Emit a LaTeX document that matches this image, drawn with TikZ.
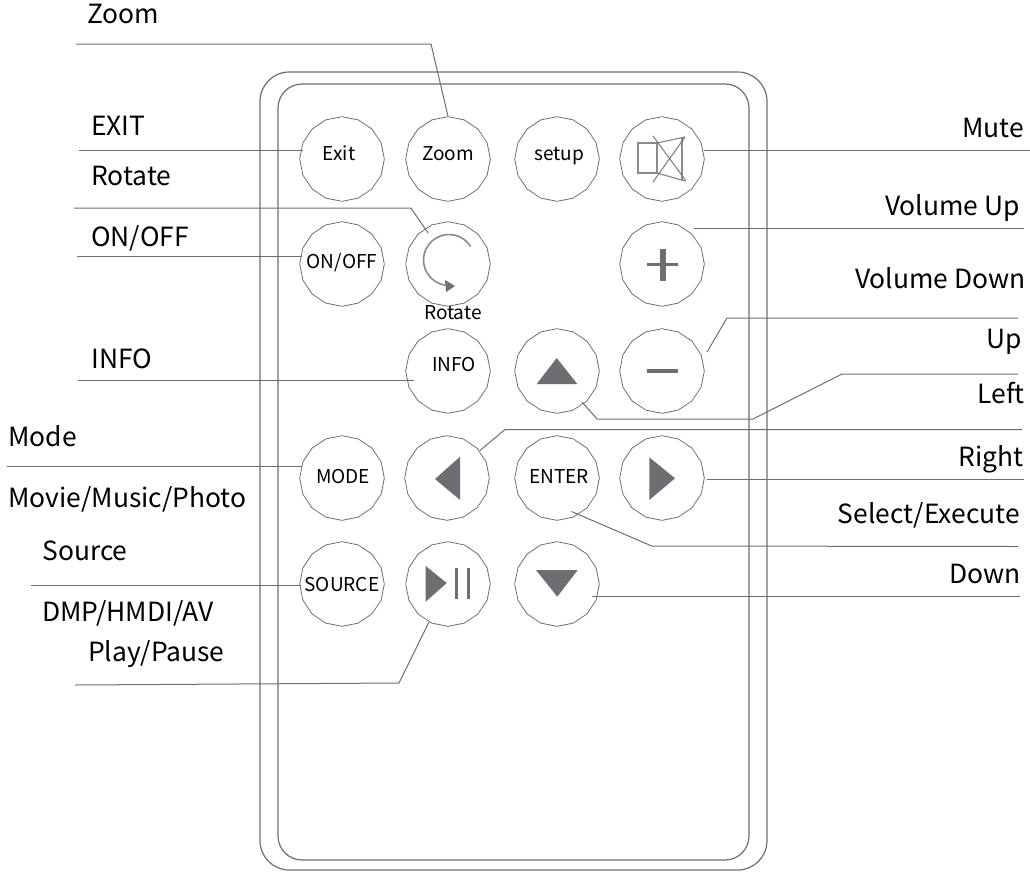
\documentclass[tikz,border=0pt]{standalone}
\usepackage{fontspec}
\setmainfont{Noto Sans CJK SC}
\usetikzlibrary{shapes.geometric}
\definecolor{ln}{RGB}{110,110,112}
\definecolor{ic}{RGB}{109,110,113}
\tikzset{
 x=0.75pt,y=-0.75pt,
 btn/.style={draw=ln,line width=0.6pt,regular polygon,regular polygon sides=16,shape border rotate=11.25,minimum size=63.5pt,inner sep=0pt},
 wire/.style={draw=ln,line width=0.75pt},
 body/.style={draw=ln,line width=0.9pt,rounded corners=22pt},
 lab/.style={font=\fontsize{19.8pt}{22pt}\selectfont,text=black,inner sep=0pt,anchor=base west},
 labr/.style={lab,anchor=base east},
 btxt/.style={font=\fontsize{14.3pt}{16pt}\selectfont,text=black,inner sep=0pt,anchor=base},
 iconl/.style={draw=ic,line width=0.9pt,opacity=.8},
}
\begin{document}
\begin{tikzpicture}
\useasboundingbox (0,0) rectangle (1030,871);
\draw[body] (260,72) rectangle (767,870);
\draw[body,rounded corners=18pt] (278,84) rectangle (749,860);
% buttons
\node[btn] (bExit) at (342,159) {};
\node[btn] (bZoom) at (448,159) {};
\node[btn] (bSetup) at (557,159) {};
\node[btn] (bMute) at (662,159) {};
\node[btn] (bOn) at (342,264) {};
\node[btn] (bRot) at (448,264) {};
\node[btn] (bPlus) at (662,264) {};
\node[btn] (bInfo) at (448,371) {};
\node[btn] (bUp) at (557,371) {};
\node[btn] (bMinus) at (662,371) {};
\node[btn] (bMode) at (342,478) {};
\node[btn] (bLeft) at (447,478) {};
\node[btn] (bEnter) at (557,478) {};
\node[btn] (bRight) at (662,478) {};
\node[btn] (bSource) at (342,584) {};
\node[btn] (bPlay) at (448,584) {};
\node[btn] (bDown) at (557,584) {};
% button texts
\node[btxt] (tExit) at (339,160) {Exit};
\node[btxt] (tZoom) at (448,160) {Zoom};
\node[btxt] (tSetup) at (559,160) {setup};
\node[btxt] (tOn) at (342,268) {ON/OFF};
\node[btxt] (tRot) at (453,319) {Rotate};
\node[btxt] (tInfo) at (454,371) {INFO};
\node[btxt] (tMode) at (343,483) {MODE};
\node[btxt] (tEnter) at (559,483) {ENTER};
\node[btxt] (tSource) at (342,591) {SOURCE};
% icons
\draw[iconl] (638,143) rectangle (657,173);
\draw[iconl] (657,143) -- (685,137);
\draw[iconl] (682,138) -- (682,180);
\draw[iconl] (657,173) -- (685,181);
\draw[iconl] (653,136) -- (686,181);
\draw[iconl] (685,137) -- (653,182);
\draw[iconl,line width=1.2pt] (449,260) ++(-32:25.5) arc (-32:-262:25.5);
\fill[ic] (445,280) -- (455,286) -- (446,292) -- cycle;
\fill[ic] (646.7,262.7) rectangle (678,266);
\fill[ic] (660,249) rectangle (666,281);
\fill[ic] (646.7,369.3) rectangle (678,372.7);
\fill[ic] (536.7,384) -- (577.3,384) -- (556.7,358) -- cycle;
\fill[ic] (435,479) -- (460,456.7) -- (460,500) -- cycle;
\fill[ic] (649.3,457.3) -- (675,478.3) -- (649.3,500) -- cycle;
\fill[ic] (536,570) -- (577.7,570) -- (557.3,596.7) -- cycle;
\fill[ic] (425.7,566) -- (446.7,583) -- (425.7,601.7) -- cycle;
\fill[ic] (455,567.7) rectangle (458.3,599.3);
\fill[ic] (466.7,567.7) rectangle (470,599.3);
% labels
\node[lab] (lZoom) at (87,23) {Zoom};
\node[lab] (lExit) at (91,135) {EXIT};
\node[lab] (lRotate) at (91,185) {Rotate};
\node[lab] (lOn) at (91,246) {ON/OFF};
\node[lab] (lInfo) at (91,368) {INFO};
\node[lab] (lMode) at (8,446) {Mode};
\node[lab] (lMovie) at (8,507) {Movie/Music/Photo};
\node[lab] (lSource) at (42,560) {Source};
\node[lab] (lDmp) at (42,621) {DMP/HMDI/AV};
\node[lab] (lPlay) at (88,661) {Play/Pause};
\node[labr] (lMute) at (1024,137) {Mute};
\node[labr] (lVu) at (1020,215) {Volume Up};
\node[labr] (lVd) at (1026,288) {Volume Down};
\node[labr] (lUp) at (1022,348) {Up};
\node[labr] (lLeft) at (1025,403) {Left};
\node[labr] (lRight) at (1024,466) {Right};
\node[labr] (lSel) at (1020,523) {Select/Execute};
\node[labr] (lDown) at (1021,583) {Down};
% free ends
\coordinate (cZoom) at (76,44);
\coordinate (cExit) at (79,150);
\coordinate (cRot) at (74,208);
\coordinate (eRot) at (428,233);
\coordinate (cOn) at (77,256);
\coordinate (cInfo) at (78,380);
\coordinate (eInfo) at (414,380);
\coordinate (cMode) at (7,466);
\coordinate (cSource) at (31,585.5);
\coordinate (cPlay) at (75,685);
\coordinate (cMute) at (1030,150);
\coordinate (cVu) at (1024,228);
\coordinate (eVu) at (694,228);
\coordinate (cVd) at (1018,318);
\coordinate (eVd) at (707,352);
\coordinate (cUp) at (1018,374);
\coordinate (eUp) at (582,402);
\coordinate (cLeft) at (1022,429.5);
\coordinate (cRight) at (1024,479);
\coordinate (cSel) at (1018,546.5);
\coordinate (eSel) at (571.5,511.5);
\coordinate (cDown) at (1020,596.5);
\coordinate (eDown) at (592,596.5);
% wires
\draw[wire] (cZoom) -- (431,44) -- (bZoom.north);
\draw[wire] (cExit) -- (303,150);
\draw[wire] (cRot) -- (411,208) -- (eRot);
\draw[wire] (cOn) -- (301.5,256);
\draw[wire] (cInfo) -- (eInfo);
\draw[wire] (cMode) -- (302,466);
\draw[wire] (cSource) -- (301,585.5);
\draw[wire] (cPlay) -- (399,683) -- (429,622);
\draw[wire] (cMute) -- (704,150);
\draw[wire] (cVu) -- (eVu);
\draw[wire] (cVd) -- (727,318) -- (eVd);
\draw[wire] (cUp) -- (842,374) -- (753,419) -- (597,419) -- (eUp);
\draw[wire] (cLeft) -- (505,429.5) -- (480,450.5);
\draw[wire] (cRight) -- (706.5,479);
\draw[wire] (cSel) -- (651.7,546) -- (eSel);
\draw[wire] (cDown) -- (eDown);
\end{tikzpicture}
\end{document}
